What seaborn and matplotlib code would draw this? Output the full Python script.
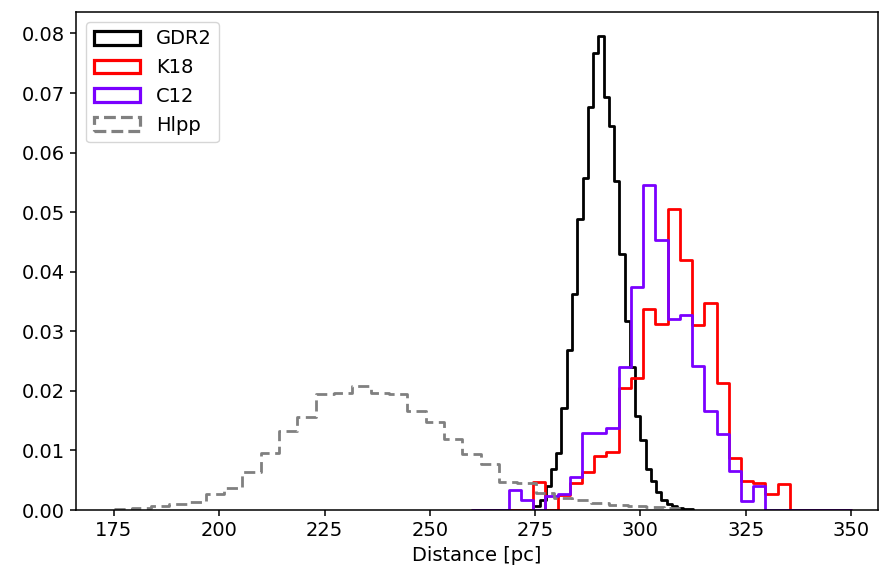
import numpy as np
import pandas as pd
import matplotlib
matplotlib.use("Agg")
import matplotlib.pyplot as plt
from matplotlib.patches import Patch
from matplotlib.ticker import FormatStrFormatter
import seaborn as sns

# ---------------- data (normalised histogram heights) -------------
series_names = ["GDR2", "K18", "C12", "Hlpp"]
series_colors = ["black", "#ff0000", "#7a00ff", "#808080"]

gdr2_range = (275.0, 312.5)
gdr2_heights = [0.0006, 0.0016, 0.0040, 0.0069, 0.0095, 0.0172, 0.0268, 0.0363,
                0.0489, 0.0558, 0.0676, 0.0767, 0.0796, 0.0693, 0.0645, 0.0553,
                0.0430, 0.0318, 0.0240, 0.0157, 0.0117, 0.0068, 0.0049, 0.0030,
                0.0016, 0.0010, 0.0006, 0.0004, 0.0002, 0.0001]

k18_range = (260.0, 350.0)
k18_heights = [0.0, 0.0, 0.0, 0.0, 0.0, 0.0047, 0.0, 0.0026, 0.0046, 0.0063,
               0.0091, 0.0097, 0.0205, 0.0222, 0.0338, 0.0312, 0.0505, 0.0420,
               0.0310, 0.0347, 0.0213, 0.0087, 0.0049, 0.0046, 0.0027, 0.0044,
               0.0, 0.0, 0.0, 0.0, 0.0]

c12_range = (260.0, 350.0)
c12_heights = [0.0, 0.0, 0.0, 0.0033, 0.0016, 0.0, 0.0024, 0.0027, 0.0056, 0.0130,
               0.0130, 0.0137, 0.0240, 0.0375, 0.0546, 0.0453, 0.0321, 0.0328,
               0.0242, 0.0167, 0.0128, 0.0066, 0.0015, 0.0041, 0.0, 0.0,
               0.0, 0.0, 0.0, 0.0, 0.0]

hlpp_range = (175.0, 310.0)
hlpp_heights = [0.0002, 0.0003, 0.0006, 0.0010, 0.0013, 0.0027, 0.0037, 0.0063,
                0.0096, 0.0132, 0.0156, 0.0194, 0.0196, 0.0209, 0.0196, 0.0195,
                0.0167, 0.0147, 0.0120, 0.0094, 0.0078, 0.0047, 0.0045, 0.0029,
                0.0020, 0.0016, 0.0011, 0.0009, 0.0007, 0.0005, 0.0003]

x_ticks = [175, 200, 225, 250, 275, 300, 325, 350]
y_ticks = [0.00, 0.01, 0.02, 0.03, 0.04, 0.05, 0.06, 0.07, 0.08]
x_label = "Distance [pc]"

# ---------------- style ---------------------------------------------------------------
sns.set_style("ticks")
plt.rcParams["font.family"] = ["DejaVu Sans"]
plt.rcParams["text.color"] = "black"
plt.rcParams["axes.labelcolor"] = "black"
plt.rcParams["xtick.color"] = "black"
plt.rcParams["ytick.color"] = "black"
FS = 14
LW = 2.0

fig = plt.figure(figsize=(8.8, 5.75), dpi=100)
ax = fig.add_axes([76 / 880, 1 - 510 / 575, (878 - 76) / 880, (510 - 12) / 575])


def draw_hist(heights, rng, color, ls="-"):
    n = len(heights)
    width = (rng[1] - rng[0]) / n
    centers = rng[0] + width * (np.arange(n) + 0.5)
    df = pd.DataFrame({"dist": centers, "w": np.asarray(heights, dtype=float)})
    sns.histplot(data=df, x="dist", weights="w", bins=n, binrange=rng,
                 element="step", fill=False, color=color, linewidth=LW,
                 linestyle=ls, ax=ax)


draw_hist(gdr2_heights, gdr2_range, series_colors[0])
draw_hist(k18_heights, k18_range, series_colors[1])
draw_hist(c12_heights, c12_range, series_colors[2])
draw_hist(hlpp_heights, hlpp_range, series_colors[3], ls=(0, (4.0, 2.0)))

ax.set_xlim(166.0, 356.4)
ax.set_ylim(0, 0.0836)
ax.set_xticks(x_ticks)
ax.set_yticks(y_ticks)
ax.yaxis.set_major_formatter(FormatStrFormatter("%.2f"))
ax.set_xlabel(x_label, fontsize=FS)
ax.set_ylabel("")
ax.tick_params(axis="both", labelsize=FS, length=4.5, width=1.1, color="black",
               labelcolor="black", direction="out")
for sp in ax.spines.values():
    sp.set_visible(True)
    sp.set_linewidth(1.1)
    sp.set_color("black")

handles = []
for name, col in zip(series_names, series_colors):
    handles.append(Patch(facecolor="none", edgecolor=col, linewidth=LW + 0.3,
                         linestyle="--" if name == "Hlpp" else "-", label=name))
leg = ax.legend(handles=handles, loc="upper left", fontsize=FS, handlelength=2.4,
                frameon=True, fancybox=True, framealpha=0.8, edgecolor="#cccccc")
for t in leg.get_texts():
    t.set_color("black")

fig.savefig("out.png", dpi=100)
